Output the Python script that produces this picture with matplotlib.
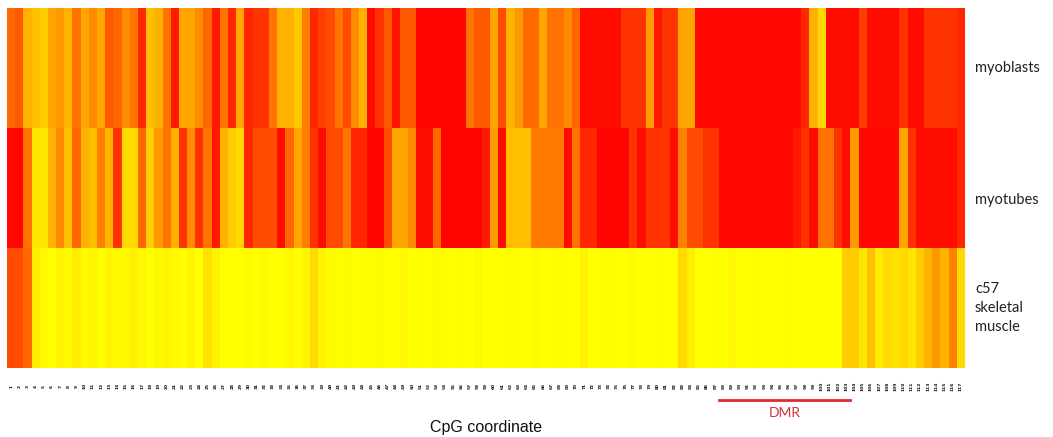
import numpy as np
import matplotlib
matplotlib.use('Agg')
import matplotlib.pyplot as plt
from matplotlib.colors import LinearSegmentedColormap
import matplotlib.transforms as mtransforms

# methylation level per CpG (1 = red, 0 = yellow)
myoblasts = [
    0.58, 0.65, 0.30, 0.25, 0.20, 0.35, 0.40, 0.30, 0.55, 0.35,
    0.45, 0.35, 0.65, 0.60, 0.45, 0.55, 0.85, 0.25, 0.30, 0.55,
    0.90, 0.35, 0.35, 0.45, 0.60, 0.90, 0.55, 0.85, 0.35, 0.85,
    0.80, 0.80, 0.55, 0.30, 0.30, 0.22, 0.50, 0.85, 0.75, 0.70,
    0.55, 0.70, 0.45, 0.30, 0.95, 0.80, 0.65, 0.92, 0.65, 0.65,
    0.98, 0.98, 0.98, 0.98, 0.98, 0.98, 0.55, 0.65, 0.65, 0.35,
    0.70, 0.30, 0.40, 0.58, 0.58, 0.35, 0.55, 0.55, 0.45, 0.60,
    0.95, 0.95, 0.95, 0.95, 0.95, 0.80, 0.80, 0.80, 0.40, 0.90,
    0.80, 0.80, 0.35, 0.35, 0.97, 0.97, 0.97, 0.97, 0.97, 0.97,
    0.97, 0.97, 0.97, 0.97, 0.97, 0.97, 0.97, 0.85, 0.30, 0.15,
    0.95, 0.95, 0.95, 0.95, 0.75, 0.95, 0.95, 0.95, 0.95, 0.80,
    0.95, 0.95, 0.80, 0.80, 0.80, 0.80, 0.85]

myotubes = [
    0.97, 0.97, 0.55, 0.10, 0.10, 0.30, 0.45, 0.25, 0.60, 0.30,
    0.25, 0.50, 0.30, 0.80, 0.15, 0.15, 0.60, 0.20, 0.40, 0.55,
    0.30, 0.80, 0.45, 0.80, 0.55, 0.90, 0.30, 0.20, 0.15, 0.85,
    0.70, 0.70, 0.70, 0.95, 0.60, 0.35, 0.50, 0.80, 0.95, 0.70,
    0.70, 0.55, 0.85, 0.85, 0.98, 0.98, 0.70, 0.35, 0.35, 0.45,
    0.95, 0.95, 0.60, 0.98, 0.98, 0.98, 0.98, 0.98, 0.90, 0.40,
    0.95, 0.25, 0.25, 0.25, 0.52, 0.52, 0.52, 0.52, 0.95, 0.55,
    0.85, 0.85, 0.98, 0.98, 0.98, 0.98, 0.80, 0.95, 0.80, 0.80,
    0.80, 0.95, 0.50, 0.70, 0.70, 0.80, 0.80, 0.97, 0.97, 0.97,
    0.97, 0.97, 0.97, 0.97, 0.97, 0.97, 0.90, 0.80, 0.95, 0.55,
    0.55, 0.80, 0.95, 0.40, 0.97, 0.97, 0.97, 0.97, 0.97, 0.35,
    0.80, 0.95, 0.95, 0.95, 0.95, 0.95, 0.85]

c57_muscle = [
    0.70, 0.70, 0.60, 0.07, 0.03, 0.00, 0.05, 0.02, 0.07, 0.03,
    0.04, 0.00, 0.05, 0.02, 0.03, 0.06, 0.02, 0.00, 0.03, 0.05,
    0.02, 0.00, 0.04, 0.00, 0.12, 0.05, 0.00, 0.00, 0.00, 0.02,
    0.00, 0.03, 0.00, 0.00, 0.03, 0.00, 0.04, 0.15, 0.05, 0.02,
    0.00, 0.02, 0.00, 0.01, 0.00, 0.02, 0.00, 0.00, 0.03, 0.00,
    0.01, 0.00, 0.02, 0.00, 0.00, 0.01, 0.00, 0.02, 0.00, 0.00,
    0.00, 0.01, 0.00, 0.00, 0.02, 0.00, 0.00, 0.01, 0.00, 0.00,
    0.05, 0.00, 0.00, 0.01, 0.00, 0.00, 0.02, 0.00, 0.00, 0.01,
    0.00, 0.00, 0.15, 0.07, 0.00, 0.00, 0.01, 0.00, 0.03, 0.00,
    0.00, 0.01, 0.00, 0.00, 0.00, 0.01, 0.00, 0.00, 0.00, 0.00,
    0.00, 0.00, 0.20, 0.20, 0.10, 0.25, 0.08, 0.15, 0.12, 0.15,
    0.10, 0.20, 0.30, 0.40, 0.30, 0.50, 0.15]

samples = ['myoblasts', 'myotubes', 'c57\nskeletal\nmuscle']
cpg_labels = [str(i) for i in range(1, len(myoblasts) + 1)]
dmr_start, dmr_end = 87, 103   # CpG columns covered by the DMR

data = np.array([myoblasts, myotubes, c57_muscle])
cmap = LinearSegmentedColormap.from_list('heat', ['#FFFF00', '#FF8000', '#FF0000'])

fig = plt.figure(figsize=(10.53, 4.37), dpi=100)
ax = fig.add_axes([7/1053, 69/437, 958/1053, 360/437])
ax.imshow(data, cmap=cmap, vmin=0, vmax=1, aspect='auto', interpolation='nearest')

for s in ax.spines.values():
    s.set_visible(False)

ax.set_xticks(np.arange(len(cpg_labels)))
ax.set_xticklabels(cpg_labels, rotation=90, fontsize=3.2, fontweight='bold',
                   color='#111111', va='center')
ax.tick_params(axis='x', length=0, pad=13)
ax.set_yticks([])

# sample names to the right of each row
label_trans = mtransforms.blended_transform_factory(ax.transAxes, ax.transData)
for i, name in enumerate(samples):
    dy = 0.1 if i == 1 else 0.0
    ax.text(1.0105, i + dy, name, transform=label_trans, fontsize=10.5, family='Lato',
            ha='left', va='center', linespacing=1.45, color='#222222')

ax.set_xlabel('CpG coordinate', fontsize=11.5, family='Liberation Sans', labelpad=21,
              color='#111111')

# DMR bracket below the heatmap
trans = mtransforms.blended_transform_factory(ax.transData, ax.transAxes)
ax.plot([dmr_start - 0.5, dmr_end - 0.5], [-0.089, -0.089], color='#E0282E', lw=2,
        transform=trans, clip_on=False)
ax.text((dmr_start + dmr_end) / 2 - 0.5, -0.125, 'DMR', color='#D4303A', fontsize=10,
        family='Lato', ha='center', va='center', transform=trans)

fig.savefig('out.png', dpi=100)
